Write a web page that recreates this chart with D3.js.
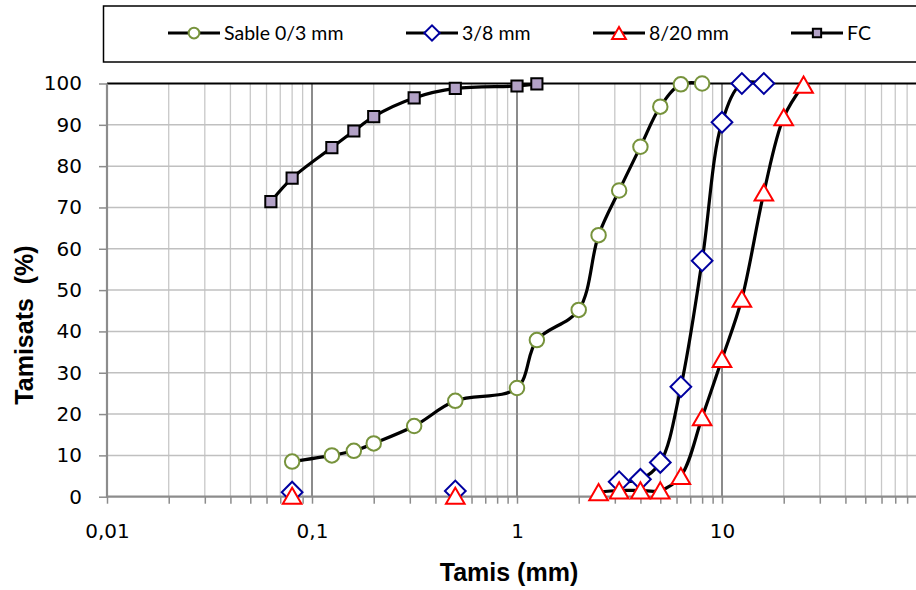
<!DOCTYPE html>
<html>
<head>
    <meta charset="utf-8">
    <title>courbes granulometriques</title>
    <script type="text/javascript" src="https://cdn.jsdelivr.net/npm/d3@7/dist/d3.min.js"></script>
    <style type="text/css">
        body { margin: 0; background-color: #fff; }
        svg { display: block; }
        .tick-label { font-family: "DejaVu Sans", sans-serif; font-size: 20px; fill: #000; }
        .legend-label { font-family: Lato, "Open Sans", sans-serif; font-size: 19.5px; fill: #000; }
        .axis-title { font-family: "Liberation Sans", Arial, sans-serif; font-size: 25px; font-weight: bold; fill: #000; }
    </style>
</head>
<body>
<svg id="chart" width="916" height="590"></svg>

<script type="text/javascript">
    // sieve openings (mm), shared by all series
    const sieves = [0.063, 0.08, 0.125, 0.16, 0.2, 0.315, 0.5, 1, 1.25, 2, 2.5, 3.15, 4, 5, 6.3, 8, 10, 12.5, 16, 20, 25];

    // passing (%) per sieve, null = no measurement
    const sable03 = [null, 8.5, 10, 11.1, 12.9, 17.1, 23.2, 26.3, 37.9, 45.2, 63.3, 74.1, 84.7, 94.4, 99.8, 100, null, null, null, null, null];
    const gravier38 = [null, 1.1, null, null, null, null, 1.4, null, null, null, null, 3.6, 4.2, 8.3, 26.6, 57.1, 90.6, 100, 100, null, null];
    const gravier820 = [null, 0.2, null, null, null, null, 0.2, null, null, null, 1.1, 1.5, 1.5, 1.5, 5.0, 19.2, 33.3, 47.9, 73.6, 91.8, 99.7];
    const fillerFC = [71.4, 77.1, 84.5, 88.5, 92, 96.5, 98.8, 99.4, 99.9, null, null, null, null, null, null, null, null, null, null, null, null];

    const seriesNames = ["Sable 0/3 mm", "3/8 mm", "8/20 mm", "FC"];

    const xTicks = [0.01, 0.1, 1, 10];
    const xTickLabels = ["0,01", "0,1", "1", "10"];
    const yTicks = [0, 10, 20, 30, 40, 50, 60, 70, 80, 90, 100];

    const svg = d3.select("#chart");
    svg.append("rect").attr("width", 916).attr("height", 590).attr("fill", "#fff");

    const plotL = 107, plotR = 927, plotT = 83.5, plotB = 496.7;

    const x = d3.scaleLog().domain([0.01, 100]).range([plotL, plotR]);
    const y = d3.scaleLinear().domain([0, 100]).range([plotB, plotT]);

    // grid: minor verticals, then horizontals, then decades
    const minor = x.ticks().filter(function(v) { return xTicks.indexOf(v) < 0 && v !== 100; });
    svg.append("g").selectAll("line").data(minor).join("line")
        .attr("x1", function(d) { return x(d); }).attr("x2", function(d) { return x(d); })
        .attr("y1", plotT).attr("y2", plotB)
        .attr("stroke", "#c8c8c8").attr("stroke-width", 1.3);

    svg.append("g").selectAll("line").data(yTicks.slice(1, -1)).join("line")
        .attr("x1", plotL).attr("x2", plotR)
        .attr("y1", function(d) { return y(d); }).attr("y2", function(d) { return y(d); })
        .attr("stroke", "#c0c0c0").attr("stroke-width", 1.5);

    svg.append("g").selectAll("line").data(xTicks.slice(1)).join("line")
        .attr("x1", function(d) { return x(d); }).attr("x2", function(d) { return x(d); })
        .attr("y1", plotT).attr("y2", plotB)
        .attr("stroke", "#8c8c8c").attr("stroke-width", 2);

    // top border of plot
    svg.append("line").attr("x1", plotL).attr("x2", plotR).attr("y1", plotT).attr("y2", plotT)
        .attr("stroke", "#000").attr("stroke-width", 2);

    // x axis: ticks on every log step, labels only on decades
    const xAxis = svg.append("g").attr("transform", "translate(0," + plotB + ")")
        .call(d3.axisBottom(x).tickValues(x.ticks()).tickSize(7).tickPadding(20)
            .tickFormat(function(d) {
                const i = xTicks.indexOf(d);
                return i < 0 ? "" : xTickLabels[i];
            }));
    xAxis.select(".domain").remove();
    xAxis.selectAll(".tick line").attr("stroke", "#8c8c8c").attr("stroke-width", 1.5);
    xAxis.selectAll("text").attr("class", "tick-label").attr("fill", null);
    svg.append("line").attr("x1", plotL).attr("x2", plotR).attr("y1", plotB).attr("y2", plotB)
        .attr("stroke", "#8c8c8c").attr("stroke-width", 2.2);

    const yAxis = svg.append("g").attr("transform", "translate(" + plotL + ",0)")
        .call(d3.axisLeft(y).tickValues(yTicks).tickSize(8).tickPadding(17));
    yAxis.select(".domain").remove();
    yAxis.selectAll(".tick line").attr("stroke", "#8c8c8c").attr("stroke-width", 1.5);
    yAxis.selectAll("text").attr("class", "tick-label").attr("fill", null);
    svg.append("line").attr("x1", plotL).attr("x2", plotL).attr("y1", plotT).attr("y2", plotB + 1)
        .attr("stroke", "#8c8c8c").attr("stroke-width", 2.2);

    // series styles
    const styles = [
        { values: sable03, type: d3.symbolCircle, size: 165, rot: 0, dy: 0, stroke: "#77933c", fill: "#fff" },
        { values: gravier38, type: d3.symbolSquare, size: 215, rot: 45, dy: 0, stroke: "#0000a0", fill: "#fff" },
        { values: gravier820, type: d3.symbolTriangle, size: 150, rot: 0, dy: 2.6, stroke: "#ff0000", fill: "#fff" },
        { values: fillerFC, type: d3.symbolSquare, size: 125, rot: 0, dy: 0, stroke: "#000", fill: "#b3a2c7" }
    ];

    const line = d3.line()
        .defined(function(d) { return d[1] != null; })
        .x(function(d) { return x(d[0]); })
        .y(function(d) { return y(d[1]); })
        .curve(d3.curveCatmullRom.alpha(0.5));

    styles.forEach(function(s) {
        const pts = sieves.map(function(v, i) { return [v, s.values[i]]; });
        svg.append("path").attr("d", line(pts))
            .attr("fill", "none").attr("stroke", "#000").attr("stroke-width", 3.2);
    });

    styles.forEach(function(s) {
        const pts = sieves.map(function(v, i) { return [v, s.values[i]]; })
            .filter(function(d) { return d[1] != null; });
        svg.append("g").selectAll("path").data(pts).join("path")
            .attr("d", d3.symbol().type(s.type).size(s.size))
            .attr("transform", function(d) {
                return "translate(" + x(d[0]) + "," + (y(d[1]) + s.dy) + ") rotate(" + s.rot + ")";
            })
            .attr("fill", s.fill).attr("stroke", s.stroke).attr("stroke-width", 2);
    });

    // legend
    svg.append("rect").attr("x", 103.5).attr("y", 6).attr("width", 840).attr("height", 56)
        .attr("fill", "#fff").attr("stroke", "#000").attr("stroke-width", 1.5);
    const legendX = [168, 406, 593, 791];
    seriesNames.forEach(function(name, i) {
        const s = styles[i];
        const g = svg.append("g").attr("transform", "translate(" + legendX[i] + ",33)");
        g.append("line").attr("x1", 0).attr("x2", 52).attr("stroke", "#000").attr("stroke-width", 3.2);
        g.append("path").attr("d", d3.symbol().type(s.type).size(s.size * 0.55))
            .attr("transform", "translate(26," + (s.dy * 0.75) + ") rotate(" + s.rot + ")")
            .attr("fill", s.fill).attr("stroke", s.stroke).attr("stroke-width", 2);
        g.append("text").attr("class", "legend-label").attr("x", 56).attr("y", 7).text(name);
    });

    // axis titles
    svg.append("text").attr("class", "axis-title").attr("text-anchor", "middle")
        .attr("x", 509).attr("y", 581).text("Tamis (mm)");
    svg.append("text").attr("class", "axis-title").attr("text-anchor", "middle")
        .attr("transform", "translate(33,325) rotate(-90)")
        .attr("xml:space", "preserve").text("Tamisats  (%)");
</script>
</body>
</html>
